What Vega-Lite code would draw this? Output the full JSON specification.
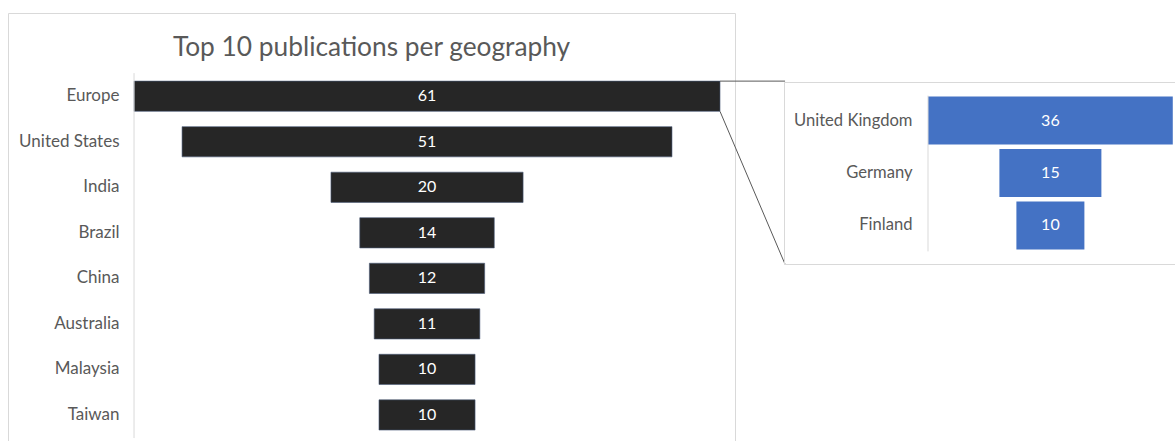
{
  "$schema": "https://vega.github.io/schema/vega-lite/v6.json",
  "padding": {"left": 7, "top": 12, "right": 0, "bottom": 0},
  "bounds": "flush",
  "spacing": 49,
  "background": "white",
  "config": {
    "font": "Lato",
    "view": {"stroke": "#d9d9d9", "strokeWidth": 1},
    "axis": {"grid": false, "ticks": false, "domain": false, "title": null, "labelFont": "Lato", "labelFontSize": 17, "labelColor": "#595959"}
  },
  "hconcat": [
    {
      "width": 727,
      "height": 440,
      "title": {"text": "Top 10 publications per geography", "offset": -48, "fontSize": 26.3, "fontWeight": "normal", "color": "#595959", "anchor": "middle", "frame": "group", "font": "Lato"},
      "data": {"values": [
        {"geo": "Europe", "n": 61},
        {"geo": "United States", "n": 51},
        {"geo": "India", "n": 20},
        {"geo": "Brazil", "n": 14},
        {"geo": "China", "n": 12},
        {"geo": "Australia", "n": 11},
        {"geo": "Malaysia", "n": 10},
        {"geo": "Taiwan", "n": 10}
      ]},
      "encoding": {
        "y": {"field": "geo", "type": "nominal", "sort": null,
              "scale": {"paddingInner": 0.336, "paddingOuter": 1.035, "align": 0.748},
              "axis": {"orient": "left", "offset": -126, "labelPadding": 15}}
      },
      "layer": [
        {
          "mark": {"type": "bar", "color": "#262626", "stroke": "#4a5a78", "strokeWidth": 0.6},
          "encoding": {
            "x": {"field": "n", "type": "quantitative", "stack": "center", "scale": {"domain": [-13.12, 62.56], "nice": false, "zero": false}, "axis": null}
          }
        },
        {
          "mark": {"type": "text", "color": "white", "fontSize": 16, "font": "Lato", "baseline": "middle"},
          "encoding": {
            "x": {"datum": 30.5, "type": "quantitative"},
            "text": {"field": "n", "type": "quantitative"}
          }
        },
        {
          "data": {"values": [{"a": "Europe", "b": "Taiwan"}]},
          "mark": {"type": "rule", "color": "#d9d9d9", "strokeWidth": 1, "yOffset": -8, "y2Offset": 8},
          "encoding": {
            "x": {"datum": 0, "type": "quantitative"},
            "y": {"field": "a", "type": "nominal", "bandPosition": 0},
            "y2": {"field": "b", "bandPosition": 1}
          }
        },
        {
          "data": {"values": [{"from": "Europe", "to": "Europe", "x0": 61, "x1": 67.77}]},
          "mark": {"type": "rule", "color": "#595959", "strokeWidth": 1},
          "encoding": {
            "x": {"field": "x0", "type": "quantitative"},
            "x2": {"field": "x1"},
            "y": {"field": "from", "type": "nominal", "bandPosition": 0},
            "y2": {"field": "to", "bandPosition": 0}
          }
        },
        {
          "data": {"values": [{"from": "Europe", "to": "China", "x0": 61, "x1": 67.77}]},
          "mark": {"type": "rule", "color": "#595959", "strokeWidth": 1, "y2Offset": 1},
          "encoding": {
            "x": {"field": "x0", "type": "quantitative"},
            "x2": {"field": "x1"},
            "y": {"field": "from", "type": "nominal", "bandPosition": 1},
            "y2": {"field": "to", "bandPosition": 0}
          }
        }
      ]
    },
    {
      "bounds": "flush",
      "spacing": 0,
      "vconcat": [
        {
          "width": 10,
          "height": 69,
          "view": {"stroke": null},
          "data": {"values": []},
          "mark": {"type": "point", "opacity": 0},
          "encoding": {}
        },
        {
          "width": 400,
          "height": 182,
          "data": {"values": [
            {"geo": "United Kingdom", "n": 36},
            {"geo": "Germany", "n": 15},
            {"geo": "Finland", "n": 10}
          ]},
          "encoding": {
            "y": {"field": "geo", "type": "nominal", "sort": null,
                  "scale": {"paddingInner": 0.084, "paddingOuter": 0.279, "align": 0.5},
                  "axis": {"orient": "left", "offset": -144, "labelPadding": 16, "labelFontSize": 16.6}}
          },
          "layer": [
            {
              "mark": {"type": "bar", "color": "#4472C4"},
              "encoding": {
                "x": {"field": "n", "type": "quantitative", "stack": "center", "scale": {"domain": [-21.18, 37.65], "nice": false, "zero": false}, "axis": null}
              }
            },
            {
              "mark": {"type": "text", "color": "white", "fontSize": 16, "font": "Lato", "baseline": "middle"},
              "encoding": {
                "x": {"datum": 18, "type": "quantitative"},
                "text": {"field": "n", "type": "quantitative"}
              }
            },
            {
              "data": {"values": [{"a": "United Kingdom", "b": "Finland"}]},
              "mark": {"type": "rule", "color": "#d9d9d9", "strokeWidth": 1, "yOffset": -1, "y2Offset": 2},
              "encoding": {
                "x": {"datum": 0, "type": "quantitative"},
                "y": {"field": "a", "type": "nominal", "bandPosition": 0},
                "y2": {"field": "b", "bandPosition": 1}
              }
            }
          ]
        }
      ]
    }
  ]
}
